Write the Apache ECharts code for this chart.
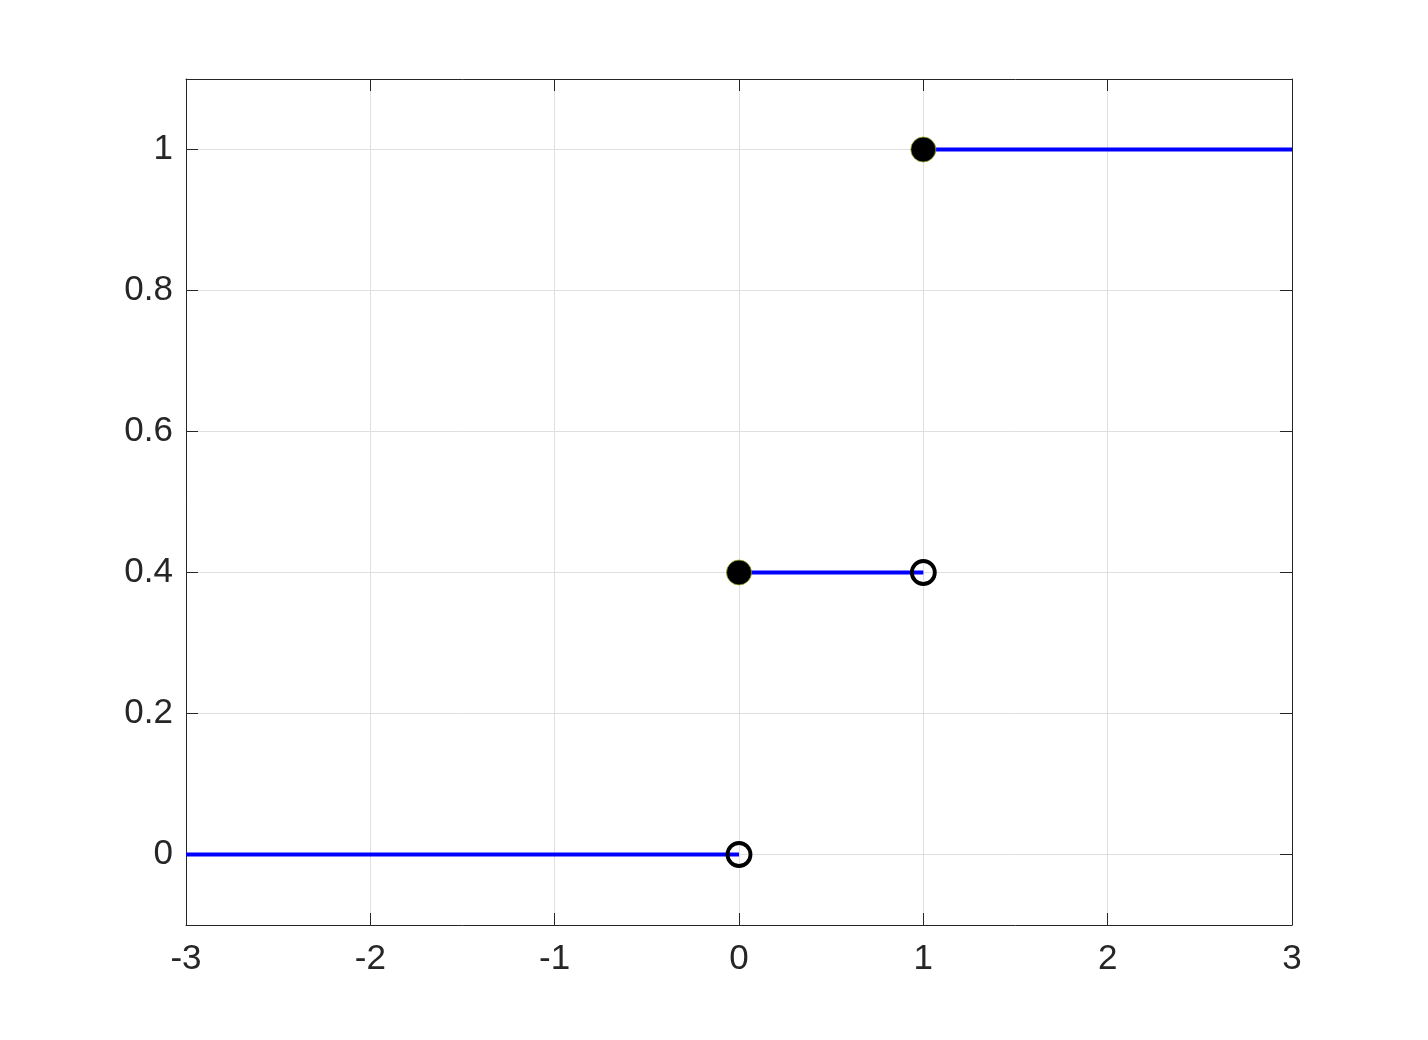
<!DOCTYPE html>
<html><head><meta charset="utf-8">
<script src="https://cdn.jsdelivr.net/npm/echarts@6/dist/echarts.min.js"></script>
<style>html,body{margin:0;padding:0;background:#fff}#c{width:1428px;height:1040px}</style>
</head><body><div id="c"></div>
<script>
const xTicks = [-3, -2, -1, 0, 1, 2, 3];
const yTicks = [0, 0.2, 0.4, 0.6, 0.8, 1];
const segments = [
  [[-3, 0], [0, 0]],
  [[0, 0.4], [1, 0.4]],
  [[1, 1], [3, 1]]
];
const closedPoints = [[0, 0.4], [1, 1]];
const openPoints = [[0, 0], [1, 0.4]];

const chart = echarts.init(document.getElementById('c'));
const font = 'Helvetica, Arial, "Liberation Sans", sans-serif';
const lbl = {color: '#262626', fontSize: 35, fontFamily: font};
const series = segments.map(s => ({
  type: 'line', data: s, symbol: 'none', xAxisIndex: 0, yAxisIndex: 0,
  lineStyle: {color: '#0000ff', width: 4}, z: 2, animation: false
}));
series.push({
  type: 'scatter', data: closedPoints, symbol: 'circle', symbolSize: 25,
  itemStyle: {color: '#000', opacity: 1, borderColor: '#9aa82a', borderWidth: 0.8}, z: 3, animation: false
});
series.push({
  type: 'scatter', data: openPoints, symbol: 'circle', symbolSize: 23,
  itemStyle: {color: 'rgba(0,0,0,0)', opacity: 1, borderColor: '#000', borderWidth: 3.8}, z: 4, animation: false
});
chart.setOption({
  animation: false,
  grid: {left: 186, right: 136, top: 79, bottom: 115},
  xAxis: [{
    type: 'value', min: -3, max: 3, interval: 1, position: 'bottom',
    axisLine: {show: true, onZero: false, lineStyle: {color: '#262626', width: 1}},
    axisTick: {show: true, inside: true, length: 12, lineStyle: {color: '#262626'}},
    axisLabel: Object.assign({margin: 17}, lbl),
    splitLine: {show: true, lineStyle: {color: '#dfdfdf', width: 1}}
  }, {
    type: 'value', min: -3, max: 3, interval: 1, position: 'top',
    axisLine: {show: true, onZero: false, lineStyle: {color: '#262626', width: 1}},
    axisTick: {show: true, inside: true, length: 12, lineStyle: {color: '#262626'}},
    axisLabel: {show: false}, splitLine: {show: false}
  }],
  yAxis: [{
    type: 'value', min: -0.1, max: 1.1, position: 'left',
    axisLine: {show: true, onZero: false, lineStyle: {color: '#262626', width: 1}},
    axisTick: {show: true, inside: true, length: 12, customValues: yTicks, lineStyle: {color: '#262626'}},
    axisLabel: Object.assign({margin: 13, customValues: yTicks, formatter: v => String(+v.toFixed(1))}, lbl),
    splitLine: {show: true, lineStyle: {color: '#dfdfdf', width: 1}}
  }, {
    type: 'value', min: -0.1, max: 1.1, position: 'right',
    axisLine: {show: true, onZero: false, lineStyle: {color: '#262626', width: 1}},
    axisTick: {show: true, inside: true, length: 12, customValues: yTicks, lineStyle: {color: '#262626'}},
    axisLabel: {show: false}, splitLine: {show: false}
  }],
  series: series
});
</script></body></html>
